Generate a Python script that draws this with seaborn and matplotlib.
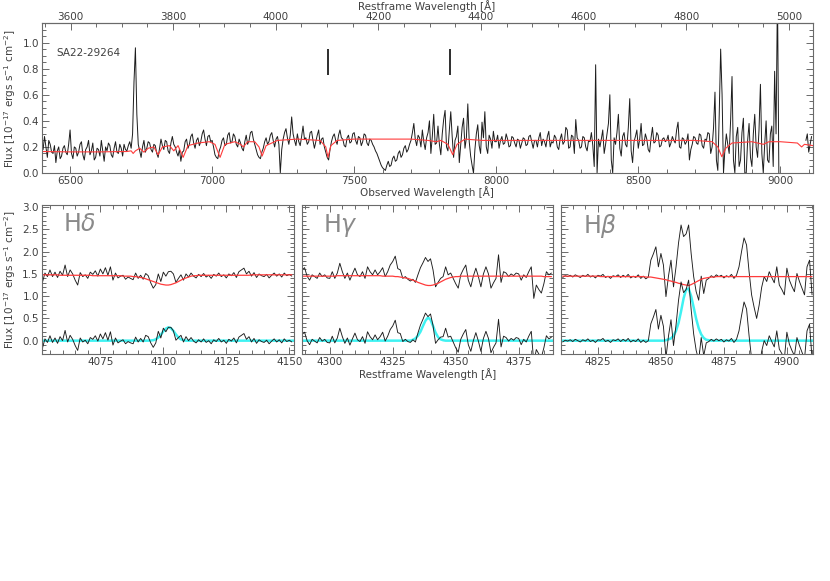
import numpy as np
import matplotlib
matplotlib.use("Agg")
import matplotlib.pyplot as plt
import seaborn as sns
from matplotlib.ticker import MultipleLocator, FixedLocator

# ---------------- data ----------------
z = 0.806

# full spectrum, observed frame, 5 A sampling (6400..8995), then a short piece after the gap
obs_wave = np.arange(6400, 9000, 5)
obs_flux = [
    0.24, 0.18, 0.28, 0.20, 0.12, 0.25, 0.22, 0.16, 0.15, 0.21, 0.08, 0.17, 0.20, 0.11, 0.13, 0.19, 0.21, 0.16, 0.14, 0.22,  # 6400
    0.33, 0.15, 0.11, 0.20, 0.19, 0.13, 0.16, 0.22, 0.24, 0.14, 0.10, 0.18, 0.20, 0.25, 0.14, 0.17, 0.23, 0.10, 0.12, 0.19,  # 6500
    0.18, 0.13, 0.25, 0.17, 0.09, 0.20, 0.17, 0.23, 0.21, 0.14, 0.12, 0.19, 0.24, 0.16, 0.15, 0.22, 0.19, 0.13, 0.22, 0.18,  # 6600
    0.17, 0.21, 0.24, 0.19, 0.30, 0.70, 0.96, 0.45, 0.22, 0.17, 0.12, 0.20, 0.25, 0.16, 0.19, 0.24, 0.23, 0.18, 0.16, 0.22,  # 6700
    0.21, 0.15, 0.12, 0.19, 0.26, 0.21, 0.18, 0.25, 0.24, 0.17, 0.15, 0.23, 0.28, 0.22, 0.20, 0.16, 0.13, 0.18, 0.09, 0.16,  # 6800
    0.17, 0.24, 0.26, 0.19, 0.22, 0.28, 0.30, 0.23, 0.19, 0.25, 0.27, 0.21, 0.24, 0.30, 0.33, 0.26, 0.21, 0.28, 0.29, 0.24,  # 6900
    0.25, 0.20, 0.14, 0.12, 0.11, 0.17, 0.20, 0.25, 0.27, 0.21, 0.22, 0.29, 0.31, 0.23, 0.24, 0.30, 0.28, 0.22, 0.20, 0.26,  # 7000
    0.23, 0.19, 0.17, 0.24, 0.29, 0.22, 0.25, 0.31, 0.32, 0.26, 0.22, 0.18, 0.14, 0.12, 0.11, 0.16, 0.19, 0.24, 0.27, 0.22,  # 7100
    0.24, 0.29, 0.31, 0.25, 0.20, 0.26, 0.28, 0.22, 0.00, 0.18, 0.26, 0.31, 0.34, 0.27, 0.22, 0.29, 0.43, 0.30, 0.25, 0.21,  # 7200
    0.30, 0.24, 0.21, 0.28, 0.36, 0.26, 0.27, 0.22, 0.24, 0.31, 0.32, 0.25, 0.19, 0.24, 0.29, 0.33, 0.22, 0.26, 0.27, 0.20,  # 7300
    0.16, 0.12, 0.10, 0.18, 0.24, 0.28, 0.30, 0.25, 0.22, 0.29, 0.33, 0.27, 0.26, 0.21, 0.20, 0.27, 0.29, 0.23, 0.24, 0.30,  # 7400
    0.31, 0.25, 0.22, 0.28, 0.27, 0.21, 0.24, 0.30, 0.29, 0.23, 0.21, 0.26, 0.25, 0.22, 0.20, 0.17, 0.15, 0.12, 0.09, 0.06,  # 7500
    0.04, 0.03, 0.02, 0.06, 0.09, 0.05, 0.06, 0.11, 0.13, 0.09, 0.10, 0.15, 0.17, 0.12, 0.14, 0.19, 0.21, 0.16, 0.18, 0.22,  # 7600
    0.25, 0.31, 0.38, 0.26, 0.21, 0.29, 0.27, 0.20, 0.33, 0.24, 0.18, 0.27, 0.31, 0.40, 0.15, 0.28, 0.45, 0.22, 0.23, 0.36,  # 7700
    0.22, 0.14, 0.30, 0.41, 0.48, 0.20, 0.17, 0.33, 0.47, 0.28, 0.12, 0.25, 0.28, 0.36, 0.08, 0.21, 0.35, 0.42, 0.19, 0.27,  # 7800
    0.53, 0.24, 0.13, 0.06, 0.00, 0.18, 0.30, 0.37, 0.21, 0.15, 0.39, 0.27, 0.47, 0.20, 0.15, 0.29, 0.26, 0.19, 0.32, 0.24,  # 7900
    0.24, 0.29, 0.19, 0.25, 0.28, 0.22, 0.23, 0.30, 0.26, 0.20, 0.21, 0.28, 0.27, 0.23, 0.20, 0.26, 0.25, 0.19, 0.23, 0.27,  # 8000
    0.26, 0.21, 0.22, 0.28, 0.29, 0.24, 0.19, 0.25, 0.25, 0.20, 0.27, 0.31, 0.21, 0.26, 0.24, 0.20, 0.28, 0.32, 0.20, 0.24,  # 8100
    0.23, 0.29, 0.27, 0.20, 0.18, 0.26, 0.30, 0.22, 0.24, 0.35, 0.33, 0.19, 0.20, 0.29, 0.28, 0.15, 0.41, 0.27, 0.25, 0.19,  # 8200
    0.20, 0.28, 0.27, 0.20, 0.17, 0.25, 0.24, 0.31, 0.21, 0.05, 0.83, 0.00, 0.26, 0.20, 0.26, 0.33, 0.15, 0.22, 0.30, 0.38,  # 8300
    0.60, 0.10, 0.00, 0.27, 0.22, 0.31, 0.45, 0.19, 0.13, 0.28, 0.31, 0.22, 0.20, 0.35, 0.57, 0.17, 0.08, 0.24, 0.28, 0.33,  # 8400
    0.19, 0.26, 0.38, 0.21, 0.22, 0.30, 0.26, 0.18, 0.16, 0.27, 0.35, 0.23, 0.24, 0.31, 0.29, 0.20, 0.21, 0.26, 0.27, 0.24,  # 8500
    0.25, 0.29, 0.20, 0.23, 0.28, 0.25, 0.23, 0.33, 0.39, 0.20, 0.19, 0.27, 0.26, 0.22, 0.24, 0.30, 0.10, 0.18, 0.22, 0.28,  # 8600
    0.27, 0.23, 0.22, 0.30, 0.29, 0.21, 0.19, 0.26, 0.25, 0.31, 0.30, 0.15, 0.20, 0.35, 0.62, 0.10, 0.02, 0.45, 0.95, 0.60,  # 8700
    0.00, 0.18, 0.30, 0.22, 0.15, 0.40, 0.74, 0.10, 0.00, 0.28, 0.35, 0.05, 0.10, 0.31, 0.42, 0.00, 0.00, 0.25, 0.38, 0.12,  # 8800
    0.05, 0.30, 0.45, 0.20, 0.12, 0.33, 0.68, 0.15, 0.00, 0.22, 0.40, 0.10, 0.08, 0.30, 0.36, 0.05, 0.78, 0.30, 1.40, -0.05,  # 8900
]
obs_wave_tail = [9090, 9095, 9100, 9105, 9110]
obs_flux_tail = [0.25, 0.30, 0.16, 0.22, 0.28]

# stellar continuum model (red), observed frame
model_wave = [6400, 6500, 6600, 6700, 6715, 6722, 6730, 6745, 6760, 6775, 6795,
              6810, 6825, 6850, 6865, 6880, 6898, 6915, 6950, 6990, 7010, 7028,
              7045, 7080, 7100, 7110, 7125, 7150, 7165, 7176, 7190, 7230, 7300,
              7380, 7400, 7408, 7418, 7440, 7500, 7600, 7700, 7760, 7790, 7805,
              7830, 7847, 7862, 7890, 7950, 8100, 8300, 8500, 8700, 8760, 8780,
              8794, 8808, 8830, 8900, 8940, 8960, 9000, 9060, 9075, 9085, 9115]
model_flux = [0.165, 0.162, 0.162, 0.165, 0.17, 0.15, 0.17, 0.19, 0.16, 0.19, 0.20,
              0.14, 0.20, 0.21, 0.17, 0.21, 0.12, 0.21, 0.23, 0.24, 0.22, 0.12,
              0.22, 0.24, 0.22, 0.20, 0.24, 0.24, 0.20, 0.13, 0.21, 0.25, 0.26,
              0.25, 0.20, 0.12, 0.21, 0.25, 0.26, 0.26, 0.26, 0.25, 0.24, 0.25,
              0.22, 0.14, 0.22, 0.26, 0.25, 0.25, 0.25, 0.25, 0.25, 0.24, 0.20,
              0.125, 0.19, 0.23, 0.24, 0.22, 0.24, 0.24, 0.23, 0.20, 0.22, 0.21]

line_rest = [4101.7, 4340.5]     # Hdelta, Hgamma markers
rest_ticks = [3600, 3800, 4000, 4200, 4400, 4600, 4800, 5000]

# zoom panels (restframe, 1 A sampling)
hd_wave = np.arange(4052, 4152)
hd_flux = [
    1.31, 1.52, 1.44, 1.59, 1.44, 1.54, 1.42, 1.56, 1.47, 1.70,
    1.44, 1.59, 1.50, 1.36, 1.25, 1.53, 1.44, 1.48, 1.40, 1.54,
    1.49, 1.57, 1.45, 1.61, 1.50, 1.64, 1.47, 1.66, 1.36, 1.52,
    1.41, 1.45, 1.47, 1.38, 1.43, 1.40, 1.37, 1.52, 1.40, 1.47,
    1.38, 1.51, 1.46, 1.30, 1.18, 1.26, 1.50, 1.33, 1.54, 1.45,
    1.55, 1.56, 1.50, 1.31, 1.40, 1.48, 1.36, 1.50, 1.43, 1.52,
    1.45, 1.41, 1.49, 1.44, 1.51, 1.43, 1.47, 1.40, 1.49, 1.45,
    1.52, 1.44, 1.48, 1.41, 1.50, 1.46, 1.53, 1.42, 1.55, 1.59,
    1.63, 1.50, 1.56, 1.45, 1.53, 1.42, 1.50, 1.46, 1.44, 1.49,
    1.41, 1.47, 1.52, 1.45, 1.50, 1.43, 1.52, 1.46, 1.49, 1.45,
]
hd_model = [
    1.48, 1.48, 1.48, 1.48, 1.48, 1.48, 1.48, 1.47, 1.47, 1.47,
    1.47, 1.47, 1.47, 1.47, 1.47, 1.47, 1.47, 1.47, 1.47, 1.47,
    1.46, 1.46, 1.46, 1.46, 1.46, 1.46, 1.46, 1.46, 1.46, 1.46,
    1.46, 1.46, 1.45, 1.45, 1.45, 1.45, 1.44, 1.44, 1.43, 1.42,
    1.41, 1.39, 1.37, 1.35, 1.33, 1.31, 1.29, 1.27, 1.26, 1.25,
    1.25, 1.26, 1.28, 1.30, 1.33, 1.36, 1.39, 1.41, 1.43, 1.45,
    1.46, 1.46, 1.47, 1.47, 1.47, 1.47, 1.47, 1.47, 1.47, 1.47,
    1.47, 1.47, 1.47, 1.47, 1.47, 1.47, 1.47, 1.47, 1.47, 1.47,
    1.47, 1.47, 1.47, 1.48, 1.48, 1.48, 1.48, 1.48, 1.48, 1.48,
    1.48, 1.48, 1.48, 1.48, 1.48, 1.48, 1.48, 1.48, 1.48, 1.48,
]
hd_fit_wave = [4051.7, 4094, 4096, 4097, 4098, 4099, 4100, 4101, 4102, 4103,
               4104, 4105, 4106, 4107, 4109, 4151.7]
hd_fit_flux = [0.0, 0.0, 0.01, 0.03, 0.07, 0.13, 0.21, 0.27, 0.30, 0.28,
               0.22, 0.14, 0.07, 0.03, 0.0, 0.0]

hg_wave = np.arange(4289, 4389)
hg_flux = [
    1.59, 1.64, 1.45, 1.36, 1.48, 1.44, 1.40, 1.52, 1.44, 1.48,
    1.41, 1.40, 1.55, 1.40, 1.52, 1.74, 1.55, 1.40, 1.52, 1.36,
    1.50, 1.63, 1.48, 1.44, 1.55, 1.40, 1.66, 1.55, 1.48, 1.59,
    1.48, 1.55, 1.64, 1.44, 1.55, 1.70, 1.78, 1.90, 1.62, 1.59,
    1.40, 1.44, 1.38, 1.34, 1.38, 1.31, 1.48, 1.64, 1.75, 1.87,
    1.78, 1.84, 1.59, 1.21, 1.31, 1.40, 1.44, 1.66, 1.48, 1.52,
    1.40, 1.28, 1.18, 1.48, 1.60, 1.70, 1.36, 1.21, 1.45, 1.63,
    1.44, 1.21, 1.50, 1.66, 1.50, 1.18, 1.30, 1.40, 1.93, 1.31,
    1.55, 1.52, 1.44, 1.50, 1.46, 1.52, 1.50, 1.36, 1.48, 1.42,
    1.55, 1.66, 0.95, 1.25, 1.15, 1.07, 1.28, 1.55, 1.48, 1.52,
]
hg_model = [
    1.45, 1.45, 1.45, 1.45, 1.45, 1.45, 1.45, 1.45, 1.45, 1.45,
    1.45, 1.45, 1.45, 1.45, 1.46, 1.46, 1.46, 1.46, 1.46, 1.46,
    1.46, 1.46, 1.46, 1.46, 1.46, 1.46, 1.46, 1.46, 1.46, 1.46,
    1.46, 1.46, 1.45, 1.45, 1.45, 1.45, 1.45, 1.44, 1.44, 1.43,
    1.42, 1.41, 1.40, 1.38, 1.36, 1.34, 1.31, 1.29, 1.27, 1.25,
    1.24, 1.24, 1.25, 1.27, 1.29, 1.32, 1.35, 1.38, 1.40, 1.42,
    1.43, 1.44, 1.44, 1.45, 1.45, 1.45, 1.45, 1.45, 1.45, 1.45,
    1.45, 1.45, 1.45, 1.45, 1.45, 1.45, 1.45, 1.45, 1.45, 1.45,
    1.45, 1.45, 1.45, 1.45, 1.45, 1.45, 1.45, 1.45, 1.45, 1.45,
    1.45, 1.45, 1.45, 1.45, 1.45, 1.45, 1.44, 1.44, 1.44, 1.44,
]
hg_fit_wave = [4288.8, 4332, 4333, 4334, 4335, 4336, 4337, 4338, 4339, 4340,
               4341, 4342, 4343, 4344, 4345, 4346, 4388.8]
hg_fit_flux = [0.0, 0.0, 0.02, 0.05, 0.11, 0.20, 0.33, 0.45, 0.52, 0.47,
               0.33, 0.18, 0.08, 0.03, 0.01, 0.0, 0.0]

hb_wave = np.arange(4811, 4911)
hb_flux = [
    1.42, 1.46, 1.44, 1.47, 1.43, 1.48, 1.45, 1.42, 1.47, 1.44,
    1.49, 1.43, 1.46, 1.41, 1.47, 1.45, 1.49, 1.42, 1.45, 1.40,
    1.46, 1.44, 1.48, 1.42, 1.47, 1.43, 1.49, 1.41, 1.45, 1.42,
    1.48, 1.40, 1.45, 1.39, 1.43, 1.81, 1.95, 2.11, 1.66, 1.96,
    1.70, 0.99, 1.45, 1.81, 1.21, 1.66, 2.20, 2.60, 2.34, 2.40,
    2.60, 1.96, 1.44, 1.10, 0.91, 1.45, 1.06, 1.36, 1.40, 1.46,
    1.42, 1.48, 1.44, 1.47, 1.41, 1.46, 1.43, 1.49, 1.40, 1.47,
    1.66, 2.00, 2.31, 2.15, 1.55, 1.03, 0.75, 0.50, 0.80, 1.20,
    1.44, 1.33, 1.55, 1.42, 1.30, 1.66, 1.25, 1.15, 1.03, 1.63,
    1.36, 1.22, 1.10, 1.51, 1.33, 1.18, 1.03, 1.66, 1.81, 1.03,
]
hb_model = [
    1.45, 1.45, 1.45, 1.45, 1.45, 1.45, 1.45, 1.45, 1.45, 1.45,
    1.45, 1.45, 1.45, 1.45, 1.45, 1.44, 1.44, 1.44, 1.44, 1.44,
    1.44, 1.44, 1.44, 1.44, 1.44, 1.44, 1.44, 1.44, 1.44, 1.44,
    1.44, 1.44, 1.44, 1.43, 1.43, 1.43, 1.42, 1.41, 1.40, 1.39,
    1.38, 1.37, 1.35, 1.34, 1.32, 1.31, 1.29, 1.28, 1.26, 1.25,
    1.24, 1.26, 1.29, 1.32, 1.35, 1.38, 1.40, 1.41, 1.42, 1.43,
    1.43, 1.44, 1.44, 1.44, 1.44, 1.44, 1.44, 1.44, 1.44, 1.44,
    1.44, 1.44, 1.44, 1.44, 1.44, 1.44, 1.44, 1.44, 1.44, 1.44,
    1.44, 1.44, 1.44, 1.44, 1.44, 1.44, 1.44, 1.44, 1.44, 1.44,
    1.44, 1.44, 1.44, 1.44, 1.44, 1.44, 1.44, 1.44, 1.44, 1.44,
]
hb_fit_wave = [4810.5, 4851, 4852, 4853, 4854, 4855, 4856, 4857, 4858, 4859,
               4860, 4861, 4862, 4863, 4864, 4865, 4866, 4867, 4868, 4869,
               4870, 4910.5]
hb_fit_flux = [0.0, 0.0, 0.01, 0.03, 0.05, 0.11, 0.22, 0.40, 0.66, 0.95,
               1.15, 1.17, 1.00, 0.75, 0.49, 0.28, 0.14, 0.06, 0.02, 0.01,
               0.0, 0.0]

panels = [
    (r"H$\delta$", hd_wave, hd_flux, hd_model, hd_fit_wave, hd_fit_flux, (4051.7, 4151.7)),
    (r"H$\gamma$", hg_wave, hg_flux, hg_model, hg_fit_wave, hg_fit_flux, (4288.8, 4388.8)),
    (r"H$\beta$", hb_wave, hb_flux, hb_model, hb_fit_wave, hb_fit_flux, (4810.5, 4910.5)),
]

# ---------------- style ----------------
sns.set_style("ticks")
plt.rcParams["font.family"] = ["DejaVu Sans"]
plt.rcParams["mathtext.fontset"] = "dejavusans"
text_c = "#404040"
frame_c = "#6a6a6a"
black_c = "#1c1c1c"
red_c = "#ff3b3b"
cyan_c = "#3ff2f2"
flux_label = r"Flux [10$^{-17}$ ergs s$^{-1}$ cm$^{-2}$]"


def style_axes(ax, top=True):
    for s in ax.spines.values():
        s.set_color(frame_c)
        s.set_linewidth(0.8)
    ax.tick_params(which="both", direction="in", top=top, right=True, pad=2,
                   colors=frame_c, labelcolor=text_c, labelsize=7.5, width=0.7)
    ax.tick_params(which="major", length=5)
    ax.tick_params(which="minor", length=3)


fig = plt.figure(figsize=(8.3, 5.81), dpi=100)

# ---------------- top panel ----------------
ax = fig.add_axes([0.0502, 0.7022, 0.9293, 0.2582])
sns.lineplot(x=obs_wave, y=obs_flux, ax=ax, color=black_c, linewidth=0.7,
             estimator=None, sort=False, legend=False)
sns.lineplot(x=obs_wave_tail, y=obs_flux_tail, ax=ax, color=black_c, linewidth=0.7,
             estimator=None, sort=False, legend=False)
sns.lineplot(x=model_wave, y=model_flux, ax=ax, color=red_c, linewidth=0.8,
             estimator=None, sort=False, legend=False)
for r in line_rest:
    ax.vlines(r * (1 + z), 0.75, 0.95, color=black_c, linewidth=1.3)

ax.set_xlim(6400, 9115)
ax.set_ylim(0, 1.15)
ax.xaxis.set_major_locator(MultipleLocator(500))
ax.xaxis.set_minor_locator(MultipleLocator(100))
ax.yaxis.set_major_locator(MultipleLocator(0.2))
ax.yaxis.set_minor_locator(MultipleLocator(0.05))
ax.yaxis.set_major_formatter(plt.FormatStrFormatter("%.1f"))
style_axes(ax, top=False)
ax.set_xlabel("Observed Wavelength [Å]", fontsize=7.5, color=text_c, labelpad=0)
ax.set_ylabel(flux_label, fontsize=7.5, color=text_c, labelpad=3)
ax.text(0.0185, 0.80, "SA22-29264", transform=ax.transAxes, fontsize=7.5,
        color=text_c, va="center", ha="left")

sec = ax.secondary_xaxis("top", functions=(lambda w: w / (1 + z), lambda r: r * (1 + z)))
sec.xaxis.set_major_locator(FixedLocator(rest_ticks))
sec.xaxis.set_minor_locator(MultipleLocator(50))
sec.tick_params(which="both", direction="in", colors=frame_c, labelcolor=text_c,
                labelsize=7.5, width=0.7, pad=1)
sec.tick_params(which="major", length=5)
sec.tick_params(which="minor", length=3)
sec.spines["top"].set_color(frame_c)
# top axis title sits above the restframe tick labels
fig.text(0.5145, 1 - 6.5 / 581, "Restframe Wavelength [Å]", fontsize=7.5,
         color=text_c, ha="center", va="center")

# ---------------- zoom panels ----------------
lefts = [0.0502, 0.3633, 0.6764]
for i, (name, w, f, m, fw, ff, lim) in enumerate(panels):
    axp = fig.add_axes([lefts[i], 0.3907, 0.3035, 0.2565])
    f = np.array(f)
    m = np.array(m)
    sns.lineplot(x=w, y=f, ax=axp, color=black_c, linewidth=0.65,
                 estimator=None, sort=False, legend=False)
    sns.lineplot(x=w, y=m, ax=axp, color=red_c, linewidth=0.9,
                 estimator=None, sort=False, legend=False)
    sns.lineplot(x=fw, y=ff, ax=axp, color=cyan_c, linewidth=1.8,
                 estimator=None, sort=False, legend=False)
    sns.lineplot(x=w, y=f - m, ax=axp, color=black_c, linewidth=0.65,
                 estimator=None, sort=False, legend=False)
    axp.set_xlim(*lim)
    axp.set_ylim(-0.3, 3.05)
    axp.xaxis.set_major_locator(MultipleLocator(25))
    axp.xaxis.set_minor_locator(MultipleLocator(5))
    axp.yaxis.set_major_locator(MultipleLocator(0.5))
    axp.yaxis.set_minor_locator(MultipleLocator(0.1))
    axp.yaxis.set_major_formatter(plt.FormatStrFormatter("%.1f"))
    style_axes(axp, top=True)
    axp.set_xlabel("")
    axp.set_ylabel("")
    if i == 0:
        axp.set_ylabel(flux_label, fontsize=7.5, color=text_c, labelpad=3)
    else:
        axp.tick_params(labelleft=False)
    if i == 1:
        axp.set_xlabel("Restframe Wavelength [Å]", fontsize=7.5, color=text_c, labelpad=1)
    axp.text(0.085, 0.955, name, transform=axp.transAxes, fontsize=17,
             color="#8a8a8a", va="top", ha="left")

fig.savefig("out.png", dpi=100)
